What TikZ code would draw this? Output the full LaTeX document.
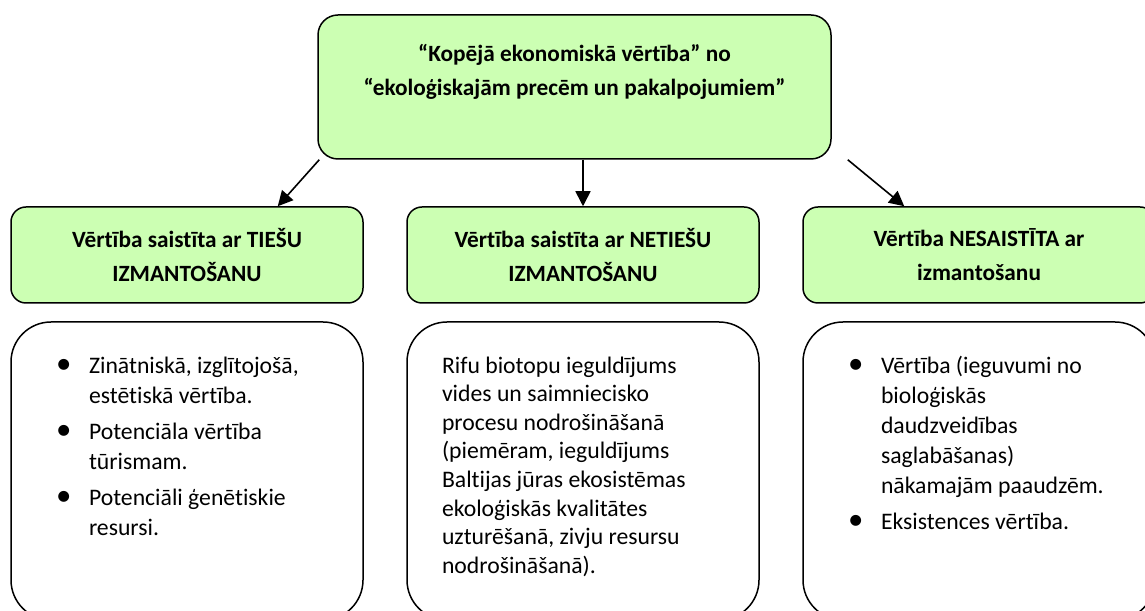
\documentclass[tikz,border=0pt]{standalone}
\usepackage{fontspec}
\setmainfont{Carlito}[Ligatures=NoCommon]
\usetikzlibrary{positioning, arrows.meta}
\definecolor{ecogreen}{RGB}{204,255,179}
\newcommand{\bulletitem}[1]{\par\noindent\hangindent=43pt\hangafter=1\makebox[43pt][l]{\hspace{10pt}\strut\scalebox{1.3}{\textbullet}}#1\par}

\begin{document}
\begin{tikzpicture}[x=1pt, y=1pt, node distance=17.5pt and 42.5pt,
  headbox/.style={rectangle, rounded corners=20pt, draw, line width=1.5pt, fill=ecogreen, minimum width=513pt, minimum height=144pt, align=center, font=\bfseries\fontsize{23.3}{34}\selectfont},
  catbox/.style={rectangle, rounded corners=15pt, draw, line width=1.5pt, fill=ecogreen, minimum width=352pt, minimum height=96pt, align=center, font=\bfseries\fontsize{23.3}{34}\selectfont},
  listbox/.style={rectangle, rounded corners=40pt, draw, line width=1.5pt, inner xsep=35pt, inner ysep=31pt, font=\fontsize{23.7}{30}\selectfont}]
  \useasboundingbox (0,0) rectangle (1145,610);
  \clip (0,0) rectangle (1145,610);
  \node (total) [headbox] at (574.5,523) {“Kopējā ekonomiskā vērtība” no\\“ekoloģiskajām precēm un pakalpojumiem”\\ \mbox{}};
  \node (direct) [catbox] at (187,355) {Vērtība saistīta ar TIEŠU\\IZMANTOŠANU};
  \node (indirect) [right=of direct, catbox] {Vērtība saistīta ar NETIEŠU\\IZMANTOŠANU};
  \node (nonuse) [right=of indirect, catbox] {Vērtība NESAISTĪTA ar\\izmantošanu};
  % value lists under each category
  \node (directlist) [below=of direct, listbox] {\begin{minipage}[t][236pt][t]{282pt}
    \bulletitem{Zinātniskā, izglītojošā,\newline estētiskā vērtība.}
    \vspace{6pt}
    \bulletitem{Potenciāla vērtība\newline tūrismam.}
    \vspace{6pt}
    \bulletitem{Potenciāli ģenētiskie\newline resursi.}
  \end{minipage}};
  \node (indirectlist) [below=of indirect, listbox] {\begin{minipage}[t][236pt][t]{282pt}
    \fontsize{23.7}{28.6}\selectfont
    \noindent\strut Rifu biotopu ieguldījums\newline vides un saimniecisko\newline procesu nodrošināšanā\newline (piemēram, ieguldījums\newline Baltijas jūras ekosistēmas\newline ekoloģiskās kvalitātes\newline uzturēšanā, zivju resursu\newline nodrošināšanā).
  \end{minipage}};
  \node (nonuselist) [below=of nonuse, listbox] {\begin{minipage}[t][236pt][t]{282pt}
    \bulletitem{Vērtība (ieguvumi no\newline bioloģiskās\newline daudzveidības\newline saglabāšanas)\newline nākamajām paaudzēm.}
    \vspace{6pt}
    \bulletitem{Eksistences vērtība.}
  \end{minipage}};
  \path [-{Triangle[length=15pt,width=15pt]}, line width=1.6pt]
    ([xshift=2pt]total.south west) edge ([xshift=-86pt]direct.north east)
    (total.south -| indirect.north) edge (indirect.north)
    ([xshift=16pt]total.south east) edge ([xshift=102pt]nonuse.north west);
\end{tikzpicture}
\end{document}
